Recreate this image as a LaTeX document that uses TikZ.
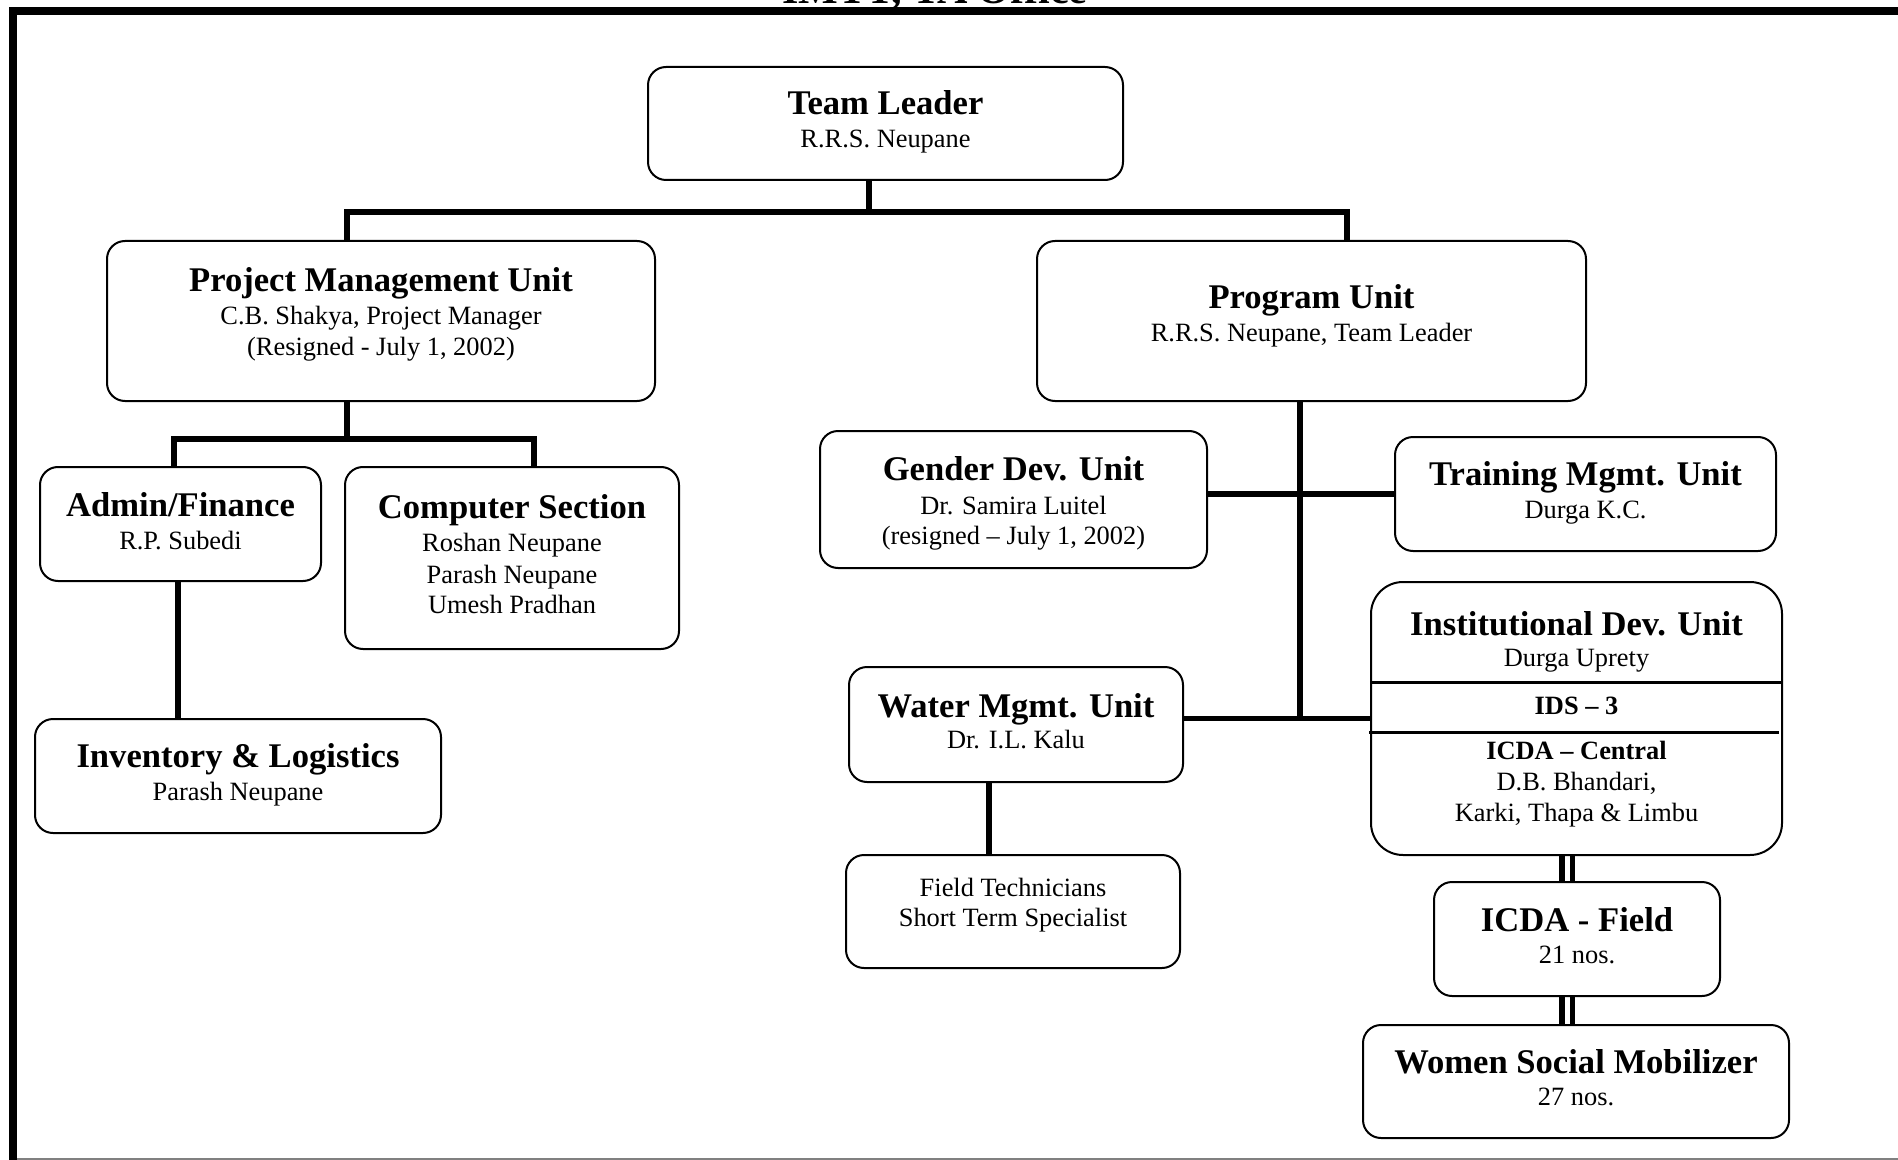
\documentclass[tikz,border=0pt]{standalone}
\usepackage{fontspec}
\setmainfont{Liberation Serif}
\usetikzlibrary{fit}
\begin{document}
\begin{tikzpicture}[x=0.5pt,y=-0.5pt,
  box/.style={draw, line width=1pt, rounded corners=9pt, inner sep=0pt},
  bigbox/.style={box, rounded corners=16pt},
  hd/.style={anchor=base, inner sep=0pt, yshift=-1pt, font=\fontsize{17.3}{20}\selectfont\bfseries},
  tx/.style={anchor=base, inner sep=0pt, yshift=-0.5pt, font=\fontsize{13.2}{15}\selectfont},
  sh/.style={anchor=base, inner sep=0pt, yshift=-0.5pt, font=\fontsize{13.2}{15}\selectfont\bfseries},
  ttlstyle/.style={anchor=base, inner sep=0pt, font=\fontsize{21}{24}\selectfont\bfseries},
  conn/.style={line width=2.75pt, line join=miter},
  dbl/.style={line width=2.9pt}]
\useasboundingbox (0,0) rectangle (1898,1160);

% title (cut off at the top, as in the original)
\node[ttlstyle] (ttl) at (935,4) {IMTT, TA Office};

% frame
\coordinate (fbl) at (13,1175);
\coordinate (ftl) at (13,11);
\coordinate (ftr) at (1915,11);
\draw[line width=4pt, line join=miter] (fbl) -- (ftl) -- (ftr);
\coordinate (gbl) at (17,1159);
\coordinate (gbr) at (1898,1159);
\draw[gray, line width=1pt] (gbl) -- (gbr);

% boxes
\node[box, fit={(648,67) (1123,180)}] (tl) {};
\node[hd] (tl1) at (885.5,113) {Team Leader};
\node[tx] (tl2) at (885.5,147) {R.R.S. Neupane};

\node[box, fit={(107,241) (655,401)}] (pmu) {};
\node[hd] (pmu1) at (381,290) {Project Management Unit};
\node[tx] (pmu2) at (381,324) {C.B. Shakya, Project Manager};
\node[tx] (pmu3) at (381,355) {(Resigned - July 1, 2002)};

\node[box, fit={(1037,241) (1586,401)}] (pu) {};
\node[hd] (pu1) at (1311.5,307) {Program Unit};
\node[tx] (pu2) at (1311.5,341) {R.R.S. Neupane, Team Leader};

\node[box, fit={(40,467) (321,581)}] (adm) {};
\node[hd] (adm1) at (180.5,514) {Admin/Finance};
\node[tx] (adm2) at (180.5,548) {R.P. Subedi};

\node[box, fit={(345,467) (679,649)}] (cmp) {};
\node[hd] (cmp1) at (512,516) {Computer Section};
\node[tx] (cmp2) at (512,550) {Roshan Neupane};
\node[tx] (cmp3) at (512,582) {Parash Neupane};
\node[tx] (cmp4) at (512,612) {Umesh Pradhan};

\node[box, fit={(35,719) (441,833)}] (inv) {};
\node[hd] (inv1) at (238,765) {Inventory \& Logistics};
\node[tx] (inv2) at (238,799) {Parash Neupane};

\node[box, fit={(820,431) (1207,568)}] (gdu) {};
\node[hd] (gdu1) at (1013.5,478) {Gender Dev. Unit};
\node[tx] (gdu2) at (1013.5,513) {Dr. Samira Luitel};
\node[tx] (gdu3) at (1013.5,543) {(resigned – July 1, 2002)};

\node[box, fit={(1395,437) (1776,551)}] (trn) {};
\node[hd] (trn1) at (1585.5,483) {Training Mgmt. Unit};
\node[tx] (trn2) at (1585.5,517) {Durga K.C.};

\node[bigbox, fit={(1371,582) (1782,855)}] (idu) {};
\draw[line width=1.5pt] (1370,682) -- (1782,682);
\draw[line width=1.5pt] (1369,732) -- (1779,732);
\node[hd] (idu1) at (1576.5,633) {Institutional Dev. Unit};
\node[tx] (idu2) at (1576.5,665) {Durga Uprety};
\node[sh] (idu3) at (1576.5,713) {IDS – 3};
\node[sh] (idu4) at (1576.5,758) {ICDA – Central};
\node[tx] (idu5) at (1576.5,789) {D.B. Bhandari,};
\node[tx] (idu6) at (1576.5,820) {Karki, Thapa \& Limbu};

\node[box, fit={(849,667) (1183,782)}] (wmu) {};
\node[hd] (wmu1) at (1016,715) {Water Mgmt. Unit};
\node[tx] (wmu2) at (1016,747) {Dr. I.L. Kalu};

\node[box, fit={(846,855) (1180,968)}] (fld) {};
\node[tx] (fld1) at (1013,895) {Field Technicians};
\node[tx] (fld2) at (1013,925) {Short Term Specialist};

\node[box, fit={(1434,882) (1720,996)}] (icf) {};
\node[hd] (icf1) at (1577,929) {ICDA - Field};
\node[tx] (icf2) at (1577,962) {21 nos.};

\node[box, fit={(1363,1025) (1789,1138)}] (wsm) {};
\node[hd] (wsm1) at (1576,1071) {Women Social Mobilizer};
\node[tx] (wsm2) at (1576,1104) {27 nos.};

% connectors
\coordinate (b1M) at (869,212);
\coordinate (b1L) at (347,212);
\coordinate (b1R) at (1347,212);
\draw[conn] (b1M |- tl.south) -- (b1M);
\draw[conn] (b1L |- pmu.north) -- (b1L) -- (b1R) -- (b1R |- pu.north);

\coordinate (b2M) at (347,439);
\coordinate (b2L) at (174,439);
\coordinate (b2R) at (534,439);
\draw[conn] (b2M |- pmu.south) -- (b2M);
\draw[conn] (b2L |- adm.north) -- (b2L) -- (b2R) -- (b2R |- cmp.north);

\coordinate (c3) at (178,600);
\draw[conn] (c3 |- adm.south) -- (c3 |- inv.north);

\coordinate (sp) at (1300,719);
\draw[conn] (sp |- pu.south) -- (sp);
\draw[conn] (gdu.east |- trn.west) -- (trn.west);
\draw[conn] (wmu.east |- idu.west) -- (idu.west);

\coordinate (c4) at (989,800);
\draw[conn] (c4 |- wmu.south) -- (c4 |- fld.north);

\coordinate (d1) at (1562,900);
\coordinate (d2) at (1572.5,900);
\draw[dbl] (d1 |- idu.south) -- (d1 |- icf.north);
\draw[dbl] (d2 |- idu.south) -- (d2 |- icf.north);
\draw[dbl] (d1 |- icf.south) -- (d1 |- wsm.north);
\draw[dbl] (d2 |- icf.south) -- (d2 |- wsm.north);
\end{tikzpicture}
\end{document}
